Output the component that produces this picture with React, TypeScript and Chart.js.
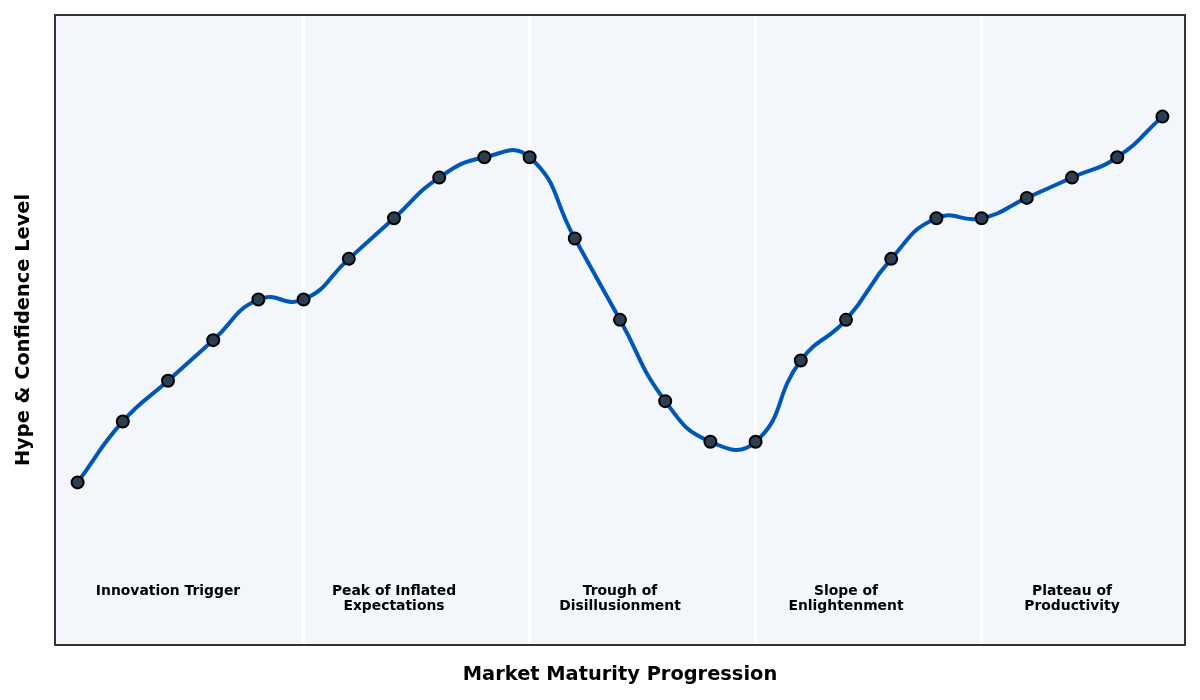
import { useEffect, useRef } from "react";
import { Chart, registerables } from "chart.js";

Chart.register(...registerables);

// hype level at each step of the market maturity progression
const hypeValues = [20, 35, 45, 55, 65, 65, 75, 85, 95, 100, 100, 80, 60, 40, 30, 30, 50, 60, 75, 85, 85, 90, 95, 100, 110];
const phaseBoundaries = [5, 10, 15, 20];
const phaseCenters = [2, 7, 12, 17, 22];
const phaseNames = [
    ["Innovation Trigger"],
    ["Peak of Inflated", "Expectations"],
    ["Trough of", "Disillusionment"],
    ["Slope of", "Enlightenment"],
    ["Plateau of", "Productivity"],
];
const phaseLabelY = -5;

const FONT = "'DejaVu Sans', sans-serif";

const phasePlugin = {
    id: "phases",
    beforeDraw(chart: any) {
        const { ctx, chartArea } = chart;
        ctx.save();
        ctx.fillStyle = "#f3f6fa";
        ctx.fillRect(chartArea.left, chartArea.top, chartArea.right - chartArea.left, chartArea.bottom - chartArea.top);
        ctx.restore();
    },
    beforeDatasetsDraw(chart: any) {
        const { ctx, chartArea, scales } = chart;
        ctx.save();
        ctx.strokeStyle = "#ffffff";
        ctx.lineWidth = 3;
        phaseBoundaries.forEach((b) => {
            const x = scales.x.getPixelForValue(b);
            ctx.beginPath();
            ctx.moveTo(x, chartArea.top);
            ctx.lineTo(x, chartArea.bottom);
            ctx.stroke();
        });
        ctx.fillStyle = "#000000";
        ctx.font = `bold 13.9px ${FONT}`;
        ctx.textAlign = "center";
        ctx.textBaseline = "top";
        const top = scales.y.getPixelForValue(phaseLabelY);
        phaseNames.forEach((lines, i) => {
            const x = scales.x.getPixelForValue(phaseCenters[i]);
            lines.forEach((line, j) => ctx.fillText(line, x, top + j * 15.5));
        });
        ctx.restore();
    },
    afterDraw(chart: any) {
        const { ctx, chartArea } = chart;
        ctx.save();
        ctx.strokeStyle = "#333333";
        ctx.lineWidth = 2;
        ctx.strokeRect(chartArea.left, chartArea.top, chartArea.right - chartArea.left, chartArea.bottom - chartArea.top);
        ctx.restore();
    },
};

export default function App() {
    const canvasRef: any = useRef(null);

    useEffect(() => {
        const ctx = canvasRef.current.getContext("2d");
        const chart = new Chart(ctx, {
            type: "line",
            data: {
                datasets: [{
                    data: hypeValues.map((v, i) => ({ x: i, y: v })),
                    borderColor: "#0057b7",
                    borderWidth: 4,
                    tension: 0.5,
                    pointRadius: 6,
                    pointBackgroundColor: "#2c3e50",
                    pointBorderColor: "#000000",
                    pointBorderWidth: 2,
                    fill: false,
                }],
            },
            options: {
                animation: false,
                responsive: false,
                events: [],
                layout: { padding: { top: 15, right: 15, left: 0, bottom: 0 } },
                plugins: {
                    legend: { display: false },
                    tooltip: { enabled: false },
                },
                scales: {
                    x: {
                        type: "linear",
                        min: -0.5,
                        max: 24.5,
                        ticks: { display: false },
                        grid: { display: false },
                        border: { display: false },
                        title: {
                            display: true,
                            text: "Market Maturity Progression",
                            color: "#000000",
                            font: { family: FONT, size: 19.4, weight: "bold" },
                            padding: { top: 0, bottom: 13 },
                        },
                        afterFit: (scale: any) => { scale.height = 55; },
                    },
                    y: {
                        min: -20,
                        max: 135,
                        ticks: { display: false },
                        grid: { display: false },
                        border: { display: false },
                        title: {
                            display: true,
                            text: "Hype & Confidence Level",
                            color: "#000000",
                            font: { family: FONT, size: 19.4, weight: "bold" },
                            padding: { top: 12, bottom: 0 },
                        },
                        afterFit: (scale: any) => { scale.width = 55; },
                    },
                },
            },
            plugins: [phasePlugin],
        } as any);

        return () => {
            chart.destroy();
        };
    }, []);

    return (
        <div style={{ position: "absolute", left: 0, top: 0, width: 1200, height: 700, background: "#ffffff" }}>
            <canvas ref={canvasRef} width={1200} height={700} style={{ width: 1200, height: 700 }}></canvas>
        </div>
    );
}
